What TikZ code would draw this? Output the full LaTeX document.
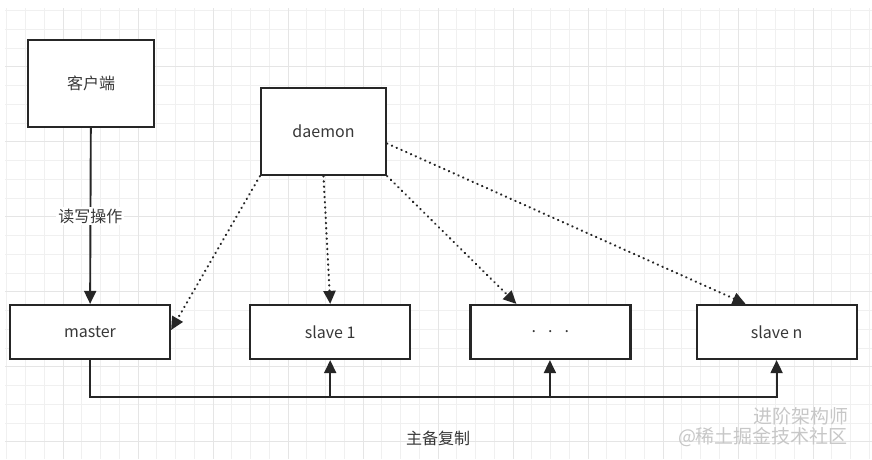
\documentclass[tikz,border=0pt]{standalone}
\usepackage{fontspec}
\setmainfont{Noto Sans CJK SC}
\usetikzlibrary{arrows.meta,positioning}

\begin{document}
\begin{tikzpicture}[x=1pt, y=-1pt, >={Triangle[length=13pt,width=12pt]}, node distance=80pt]
  \tikzstyle{box}=[draw=black!85, line width=2.2pt, minimum width=160pt, minimum height=54pt, fill=white, text=black!78, font=\fontsize{16}{19}\selectfont, inner sep=0pt]
  \tikzstyle{link}=[->, line width=1.9pt, draw=black!85]
  \tikzstyle{watch}=[link, line width=2.2pt, line cap=round, dash pattern=on 0.4pt off 4.8pt]
  \tikzstyle{caption}=[text=black!78, font=\fontsize{16}{19}\selectfont, inner sep=2pt]
  \tikzstyle{stamp}=[text=black!22, font=\fontsize{19}{19}\selectfont]
  \useasboundingbox (0,0) rectangle (872,459);
  \fill[white] (0,0) rectangle (872,459);
  \foreach \i in {0,...,46}
    \draw[black!6, line width=0.8pt] ({6.7+18.75*\i},8) -- ({6.7+18.75*\i},459);
  \foreach \i in {0,...,23}
    \draw[black!6, line width=0.8pt] (5,{10.45+18.75*\i}) -- (872,{10.45+18.75*\i});
  \foreach \i in {3,7,...,43}
    \draw[black!10, line width=0.9pt] ({6.7+18.75*\i},8) -- ({6.7+18.75*\i},459);
  \foreach \i in {3,7,...,23}
    \draw[black!10, line width=0.9pt] (5,{10.45+18.75*\i}) -- (872,{10.45+18.75*\i});

  \node[box, minimum width=126pt, minimum height=87pt] (client) at (91,83.5) {客户端};
  \node[box, minimum width=125pt, minimum height=87pt] (daemon) at (323.5,131.5) {daemon};
  \node[box] (master) at (90,332) {master};
  \node[box, right=78pt of master] (slave1) {slave 1};
  \node[box, right=58pt of slave1] (dots) {.\hspace{12pt}.\hspace{12pt}.};
  \node[box, right=64pt of dots] (slaven) {slave n};
  \coordinate (bus) at (0,397);

  \draw[link] (client) -- node[caption, fill=white] (rw) {读写操作} (master);
  \draw[watch] (daemon.south west) -- ([yshift=2pt]master.east);
  \draw[watch] (daemon.south) -- (slave1.north);
  \draw[watch] (daemon.south east) -- ([xshift=-34pt]dots.north);
  \draw[watch] ([yshift=-12pt]daemon.east) -- ([xshift=-31pt]slaven.north);

  \draw[link] (master.south) |- (bus -| slaven.south) -- (slaven.south);
  \draw[link] (bus -| slave1.south) -- (slave1.south);
  \draw[link] ([xshift=-0.5pt]bus -| dots.south) -- ([xshift=-0.5pt]dots.south);
  \node[caption] (repl) at (438,438) {主备复制};

  \node[stamp] (wm1) at (801,416) {进阶架构师};
  \node[stamp] (wm2) at (763,437) {@稀土掘金技术社区};
\end{tikzpicture}
\end{document}
